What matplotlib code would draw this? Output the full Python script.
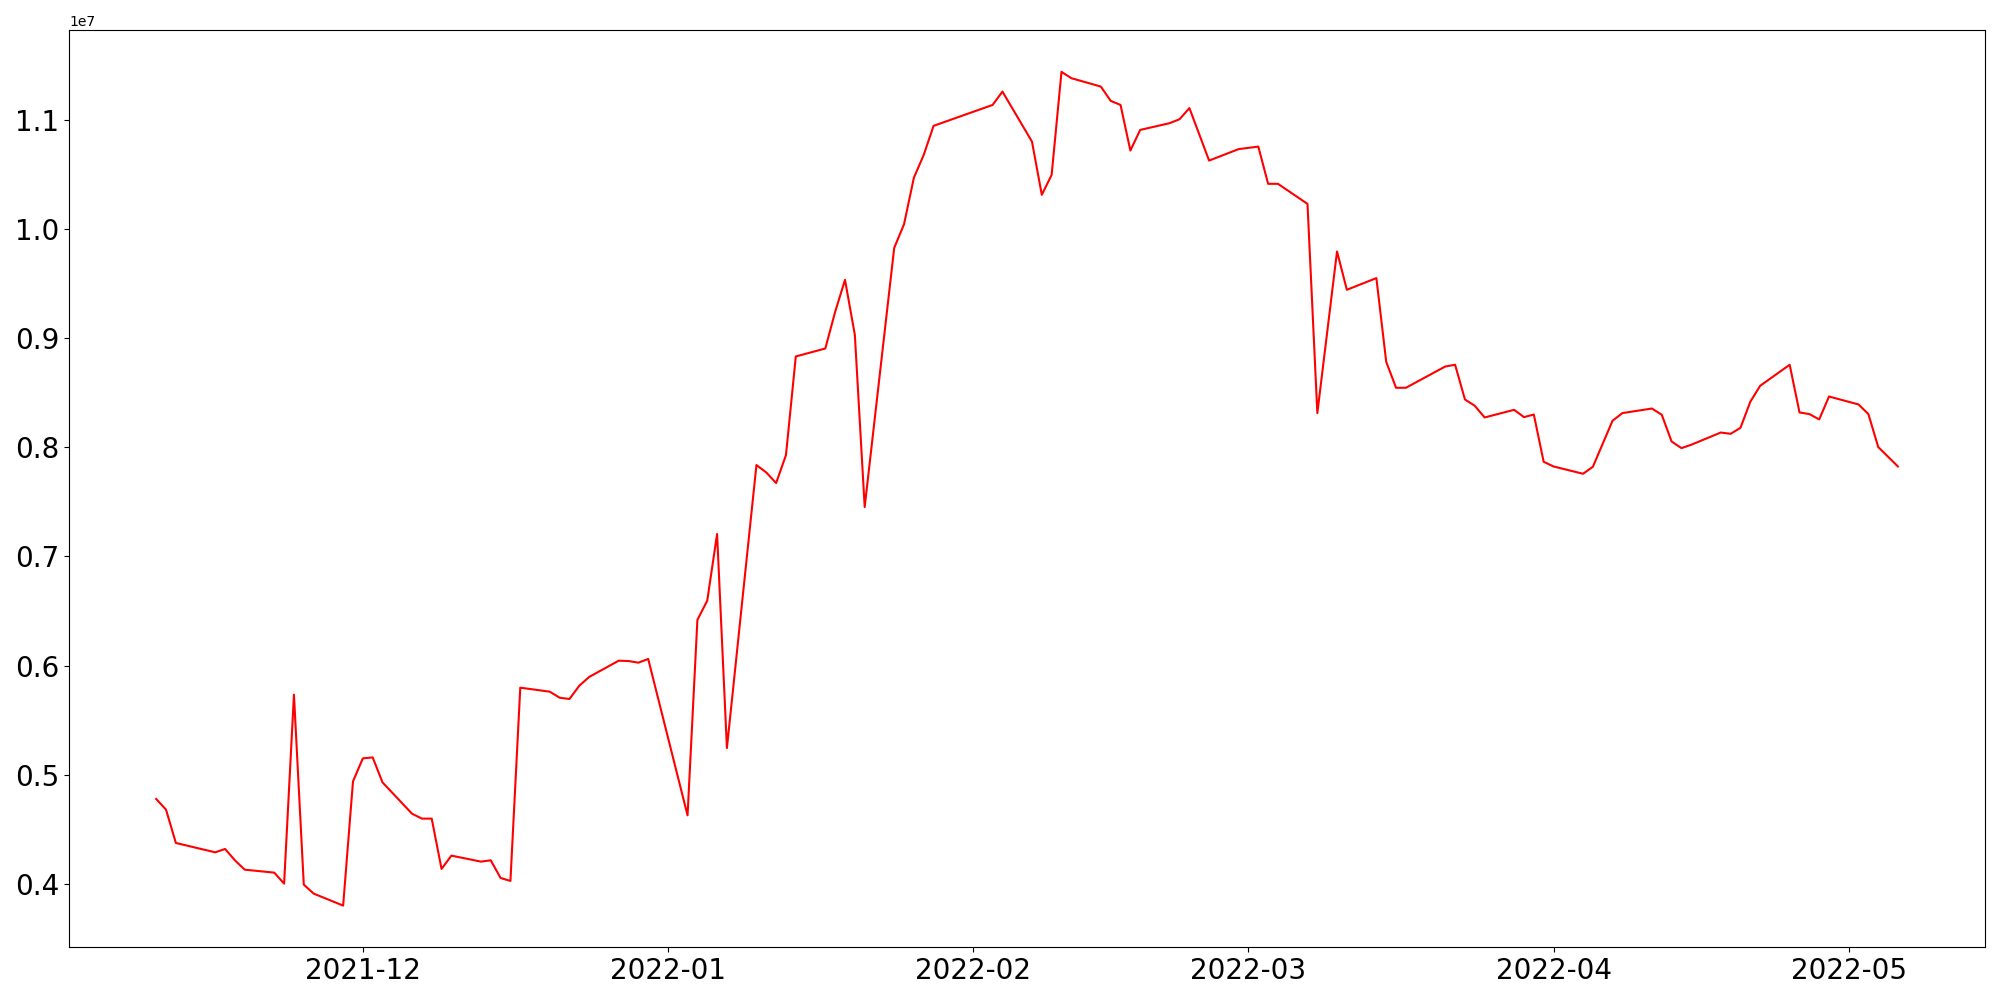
import matplotlib
matplotlib.use("Agg")
import matplotlib.pyplot as plt
import pandas as pd

# daily values (millions)
dates = [
    "2021-11-10", "2021-11-11", "2021-11-12", "2021-11-16", "2021-11-17",
    "2021-11-18", "2021-11-19", "2021-11-22", "2021-11-23", "2021-11-24",
    "2021-11-25", "2021-11-26", "2021-11-29", "2021-11-30", "2021-12-01",
    "2021-12-02", "2021-12-03", "2021-12-06", "2021-12-07", "2021-12-08",
    "2021-12-09", "2021-12-10", "2021-12-13", "2021-12-14", "2021-12-15",
    "2021-12-16", "2021-12-17", "2021-12-20", "2021-12-21", "2021-12-22",
    "2021-12-23", "2021-12-24", "2021-12-27", "2021-12-28", "2021-12-29",
    "2021-12-30", "2022-01-03", "2022-01-04", "2022-01-05", "2022-01-06",
    "2022-01-07", "2022-01-10", "2022-01-11", "2022-01-12", "2022-01-13",
    "2022-01-14", "2022-01-17", "2022-01-18", "2022-01-19", "2022-01-20",
    "2022-01-21", "2022-01-24", "2022-01-25", "2022-01-26", "2022-01-27",
    "2022-01-28", "2022-02-03", "2022-02-04", "2022-02-07", "2022-02-08",
    "2022-02-09", "2022-02-10", "2022-02-11", "2022-02-14", "2022-02-15",
    "2022-02-16", "2022-02-17", "2022-02-18", "2022-02-21", "2022-02-22",
    "2022-02-23", "2022-02-25", "2022-02-28", "2022-03-02", "2022-03-03",
    "2022-03-04", "2022-03-07", "2022-03-08", "2022-03-10", "2022-03-11",
    "2022-03-14", "2022-03-15", "2022-03-16", "2022-03-17", "2022-03-21",
    "2022-03-22", "2022-03-23", "2022-03-24", "2022-03-25", "2022-03-28",
    "2022-03-29", "2022-03-30", "2022-03-31", "2022-04-01", "2022-04-04",
    "2022-04-05", "2022-04-07", "2022-04-08", "2022-04-11", "2022-04-12",
    "2022-04-13", "2022-04-14", "2022-04-15", "2022-04-18", "2022-04-19",
    "2022-04-20", "2022-04-21", "2022-04-22", "2022-04-25", "2022-04-26",
    "2022-04-27", "2022-04-28", "2022-04-29", "2022-05-02", "2022-05-03",
    "2022-05-04", "2022-05-06",
]
values_m = [
    4.777, 4.679, 4.374, 4.288, 4.319,
    4.215, 4.129, 4.102, 4.001, 5.733,
    3.992, 3.910, 3.800, 4.938, 5.149,
    5.158, 4.929, 4.642, 4.597, 4.597,
    4.136, 4.258, 4.203, 4.215, 4.053,
    4.026, 5.797, 5.760, 5.705, 5.693,
    5.815, 5.895, 6.044, 6.041, 6.026,
    6.060, 4.627, 6.418, 6.594, 7.205,
    5.244, 7.837, 7.769, 7.672, 7.928,
    8.832, 8.905, 9.241, 9.534, 9.030,
    7.452, 9.827, 10.044, 10.470, 10.679,
    10.945, 11.137, 11.259, 10.801, 10.313,
    10.496, 11.440, 11.382, 11.305, 11.174,
    11.137, 10.719, 10.908, 10.970, 11.006,
    11.108, 10.627, 10.732, 10.755, 10.414,
    10.414, 10.230, 8.313, 9.794, 9.443,
    9.550, 8.783, 8.545, 8.545, 8.740,
    8.756, 8.438, 8.380, 8.273, 8.343,
    8.276, 8.300, 7.867, 7.824, 7.757,
    7.821, 8.243, 8.313, 8.355, 8.298,
    8.053, 7.992, 8.023, 8.135, 8.123,
    8.178, 8.417, 8.563, 8.756, 8.319,
    8.304, 8.255, 8.465, 8.392, 8.304,
    8.002, 7.824,
]

x = pd.to_datetime(dates)
y = [v * 1e6 for v in values_m]

fig, ax = plt.subplots(figsize=(20, 10), dpi=100)
ax.plot(x, y, color='red')
ax.tick_params(axis='both', labelsize=20)

plt.tight_layout()
plt.savefig('out.png')
